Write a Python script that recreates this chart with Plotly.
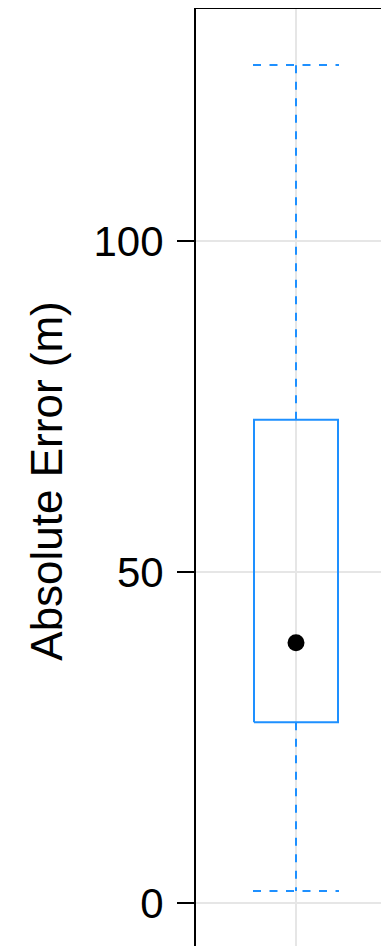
import plotly.graph_objects as go

# Data
categories = ["A"]
q1 = [27.3]
median = [39.3]
q3 = [73.0]
lower_whisker = [1.8]
upper_whisker = [126.6]
y_ticks = [0, 50, 100]

BLUE = "#1E90FF"
half = 0.21  # half box width in x units
cap = 0.215

fig = go.Figure()

for i, c in enumerate(categories):
    x0 = i
    # whiskers (dashed)
    fig.add_trace(go.Scatter(
        x=[x0, x0, None, x0, x0, None, x0 - cap, x0 + cap, None, x0 - cap, x0 + cap],
        y=[q3[i], upper_whisker[i], None, q1[i], lower_whisker[i], None,
           upper_whisker[i], upper_whisker[i], None, lower_whisker[i], lower_whisker[i]],
        mode="lines", line=dict(color=BLUE, width=2, dash="8px,8.5px"),
        hoverinfo="skip", showlegend=False))
    # box
    fig.add_trace(go.Scatter(
        x=[x0 - half, x0 + half, x0 + half, x0 - half, x0 - half],
        y=[q1[i], q1[i], q3[i], q3[i], q1[i]],
        mode="lines", line=dict(color=BLUE, width=2),
        hoverinfo="skip", showlegend=False))
    # median dot
    fig.add_trace(go.Scatter(
        x=[x0], y=[median[i]], mode="markers",
        marker=dict(color="black", size=17),
        hoverinfo="skip", showlegend=False))

fig.update_layout(
    width=389, height=946,
    margin=dict(l=188, r=0, t=0, b=0),
    paper_bgcolor="white", plot_bgcolor="white",
    font=dict(family="Liberation Sans, Arial, sans-serif", size=44, color="black"),
    xaxis=dict(range=[-0.5, 0.505], tickvals=[0], showticklabels=False,
               showgrid=True, gridcolor="#e6e6e6", gridwidth=2,
               zeroline=False, showline=False, ticks=""),
    yaxis=dict(range=[-7.7, 135.2], tickvals=y_ticks,
               showgrid=True, gridcolor="#e6e6e6", gridwidth=2,
               zeroline=False, showline=True, linecolor="black", linewidth=2,
               ticks="outside", ticklen=17, tickwidth=2, tickcolor="black",
               ticklabelstandoff=5,
               tickfont=dict(size=42),
               title=dict(text="Absolute Error (m)", font=dict(size=44), standoff=17)),
    shapes=[dict(type="line", xref="paper", yref="paper", x0=0, x1=1, y0=1, y1=1,
                 line=dict(color="black", width=2))],
)

fig.write_html("out.html")
